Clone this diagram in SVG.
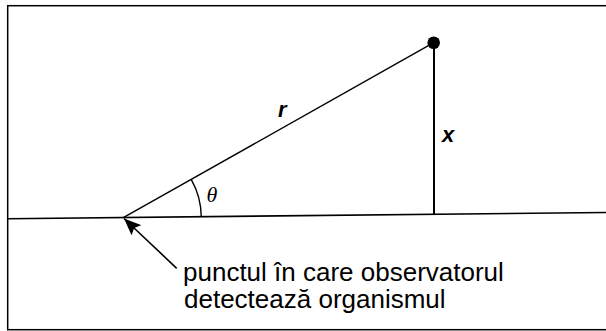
<svg xmlns="http://www.w3.org/2000/svg" width="606" height="331" viewBox="0 0 606 331">
  <style>
    .ln { stroke: #000; fill: none; stroke-linecap: butt; }
    .lbl { font-family: "Liberation Sans", Arial, sans-serif; font-weight: bold; font-style: italic; font-size: 22px; fill: #000; }
    .note { font-family: "Liberation Sans", Arial, sans-serif; font-size: 26px; fill: #000; }
    .greek { font-family: "Liberation Serif", "Times New Roman", serif; font-style: italic; font-size: 22px; fill: #000; }
  </style>
  <defs>
    <marker id="ah" markerWidth="18" markerHeight="14" refX="17" refY="7" orient="auto" markerUnits="userSpaceOnUse">
      <path d="M0,0 L17,7 L0,14 L3,7 Z" fill="#000"/>
    </marker>
  </defs>
  <rect x="7.7" y="5.7" width="620" height="324" fill="#fff" stroke="#000" stroke-width="1.5"/>
  <g id="connectors">
    <line class="ln" x1="8" y1="218.7" x2="606" y2="212.5" stroke-width="1.6"/>
    <line class="ln" x1="123.3" y1="217.7" x2="433.7" y2="42.7" stroke-width="1.4"/>
    <line class="ln" x1="434" y1="42.7" x2="434" y2="214.3" stroke-width="2"/>
    <path class="ln" d="M191.2,179.4 A78,78 0 0 1 201.3,216.9" stroke-width="1.4"/>
    <line class="ln" x1="176.7" y1="268.3" x2="124" y2="218.5" stroke-width="1.6" marker-end="url(#ah)"/>
  </g>
  <g id="object">
    <circle cx="433.7" cy="42.7" r="6.3" fill="#000"/>
  </g>
  <g id="label-r">
    <text class="lbl" x="278" y="117.3">r</text>
  </g>
  <g id="label-x">
    <text class="lbl" x="442" y="142">x</text>
  </g>
  <g id="label-theta">
    <text class="greek" x="212" y="202" text-anchor="middle">θ</text>
  </g>
  <g id="observer-note">
    <text class="note" x="183" y="281">punctul în care observatorul</text>
    <text class="note" x="184" y="308">detectează organismul</text>
  </g>
</svg>
